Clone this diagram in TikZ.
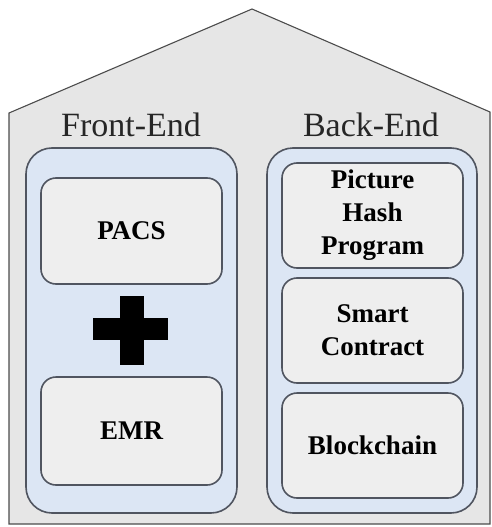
\documentclass[tikz,border=0pt]{standalone}
\usepackage{fontspec}
\setmainfont{Liberation Serif}
\definecolor{housebg}{HTML}{E6E6E6}
\definecolor{panelbg}{HTML}{DCE6F4}
\definecolor{boxbg}{HTML}{EEEEEE}
\definecolor{edge}{HTML}{505560}
\begin{document}
\begin{tikzpicture}[x=1pt,y=-1pt,
  panel/.style={draw=edge,line width=1.6pt,fill=panelbg,rounded corners=26pt},
  inbox/.style={draw=edge,line width=1.6pt,fill=boxbg,rounded corners=15pt},
  lbl/.style={font=\bfseries\fontsize{27}{33}\selectfont,align=center,text=black},
  head/.style={font=\fontsize{34}{40}\selectfont,text=black!85}]
\useasboundingbox (0,0) rectangle (491,527);
% house
\draw[fill=housebg,draw=black!70,line width=1.1pt]
  (9,113) -- (252,9) -- (490,112) -- (490,524) -- (9,524) -- cycle;
% headings
\node[head] (fe) at (131,125) {Front-End};
\node[head] (be) at (371,125) {Back-End};
% left panel
\draw[panel] (26,148) rectangle (237,513);
\draw[inbox] (41,178) rectangle (222,284);
\node[lbl] (pacs) at (131.5,231) {PACS};
\draw[inbox] (41,377) rectangle (222,485);
\node[lbl] (emr) at (131.5,431) {EMR};
% plus sign
\fill[black] (120,296) rectangle (144,365);
\fill[black] (93,318) rectangle (168,340);
% right panel
\draw[panel] (267,148) rectangle (477,513);
\draw[inbox] (282,163) rectangle (463,268);
\node[lbl] (php) at (372.5,215.5) {Picture\\Hash\\Program};
\draw[inbox] (282,278) rectangle (463,383);
\node[lbl] (sc) at (372.5,330.5) {Smart\\Contract};
\draw[inbox] (282,393) rectangle (463,498);
\node[lbl] (bc) at (372.5,445.5) {Blockchain};
\end{tikzpicture}
\end{document}
